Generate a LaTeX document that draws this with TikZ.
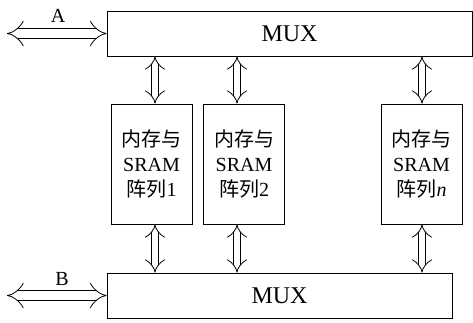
\documentclass[tikz,border=0pt]{standalone}
\usepackage{fontspec}
\setmainfont{Liberation Serif}
\newfontfamily\cjk{Noto Sans CJK SC}
\usepackage{tikz}
\usetikzlibrary{arrows.meta}
\tikzset{
  blk/.style={draw, line width=0.8pt, inner sep=0pt},
  bus/.style={double, double distance=6.5pt, line width=0.8pt, {Implies[scale=1.6]}-{Implies[scale=1.6]}},
  hbus/.style={bus, double distance=8.5pt}
}

\begin{document}
\begin{tikzpicture}[x=1pt, y=-1pt, font=\fontsize{20}{25}\selectfont]
    \useasboundingbox (0,0) rectangle (473,322);
    \node[blk, font=\fontsize{24}{28}\selectfont, minimum width=365pt, minimum height=45pt] (muxa) at (289.5,33.5) {MUX};
    \node[blk, font=\fontsize{24}{28}\selectfont, minimum width=345pt, minimum height=45pt] (muxb) at (279.5,295.5) {MUX};
    \begin{scope}[every node/.style={blk, minimum width=81pt, minimum height=120pt, align=center}]
    \node (mem1) at (151.5,164) {{\cjk 内存与}\\SRAM\\{\cjk 阵列}1};
    \node (mem2) at (244,164) {{\cjk 内存与}\\SRAM\\{\cjk 阵列}2};
    \node (memn) at (421.5,164) {{\cjk 内存与}\\SRAM\\{\cjk 阵列}\textit{n}};
    \end{scope}
    \coordinate (aend) at (7,33.5);
    \coordinate (bend) at (7,295.5);
    \node (alab) at (58,16) {A};
    \node (blab) at (62,279) {B};
    \draw[hbus] (aend) -- (muxa.west);
    \draw[hbus] (bend) -- (muxb.west);
    \draw[bus] ([xshift=3.5pt]mem1.north) -- ([xshift=3.5pt]mem1.north |- muxa.south);
    \draw[bus] ([xshift=-7pt]mem2.north) -- ([xshift=-7pt]mem2.north |- muxa.south);
    \draw[bus] ([xshift=0.5pt]memn.north) -- ([xshift=0.5pt]memn.north |- muxa.south);
    \draw[bus] ([xshift=3.5pt]mem1.south) -- ([xshift=3.5pt]mem1.south |- muxb.north);
    \draw[bus] ([xshift=-7pt]mem2.south) -- ([xshift=-7pt]mem2.south |- muxb.north);
    \draw[bus] ([xshift=0.5pt]memn.south) -- ([xshift=0.5pt]memn.south |- muxb.north);
\end{tikzpicture}
\end{document}
